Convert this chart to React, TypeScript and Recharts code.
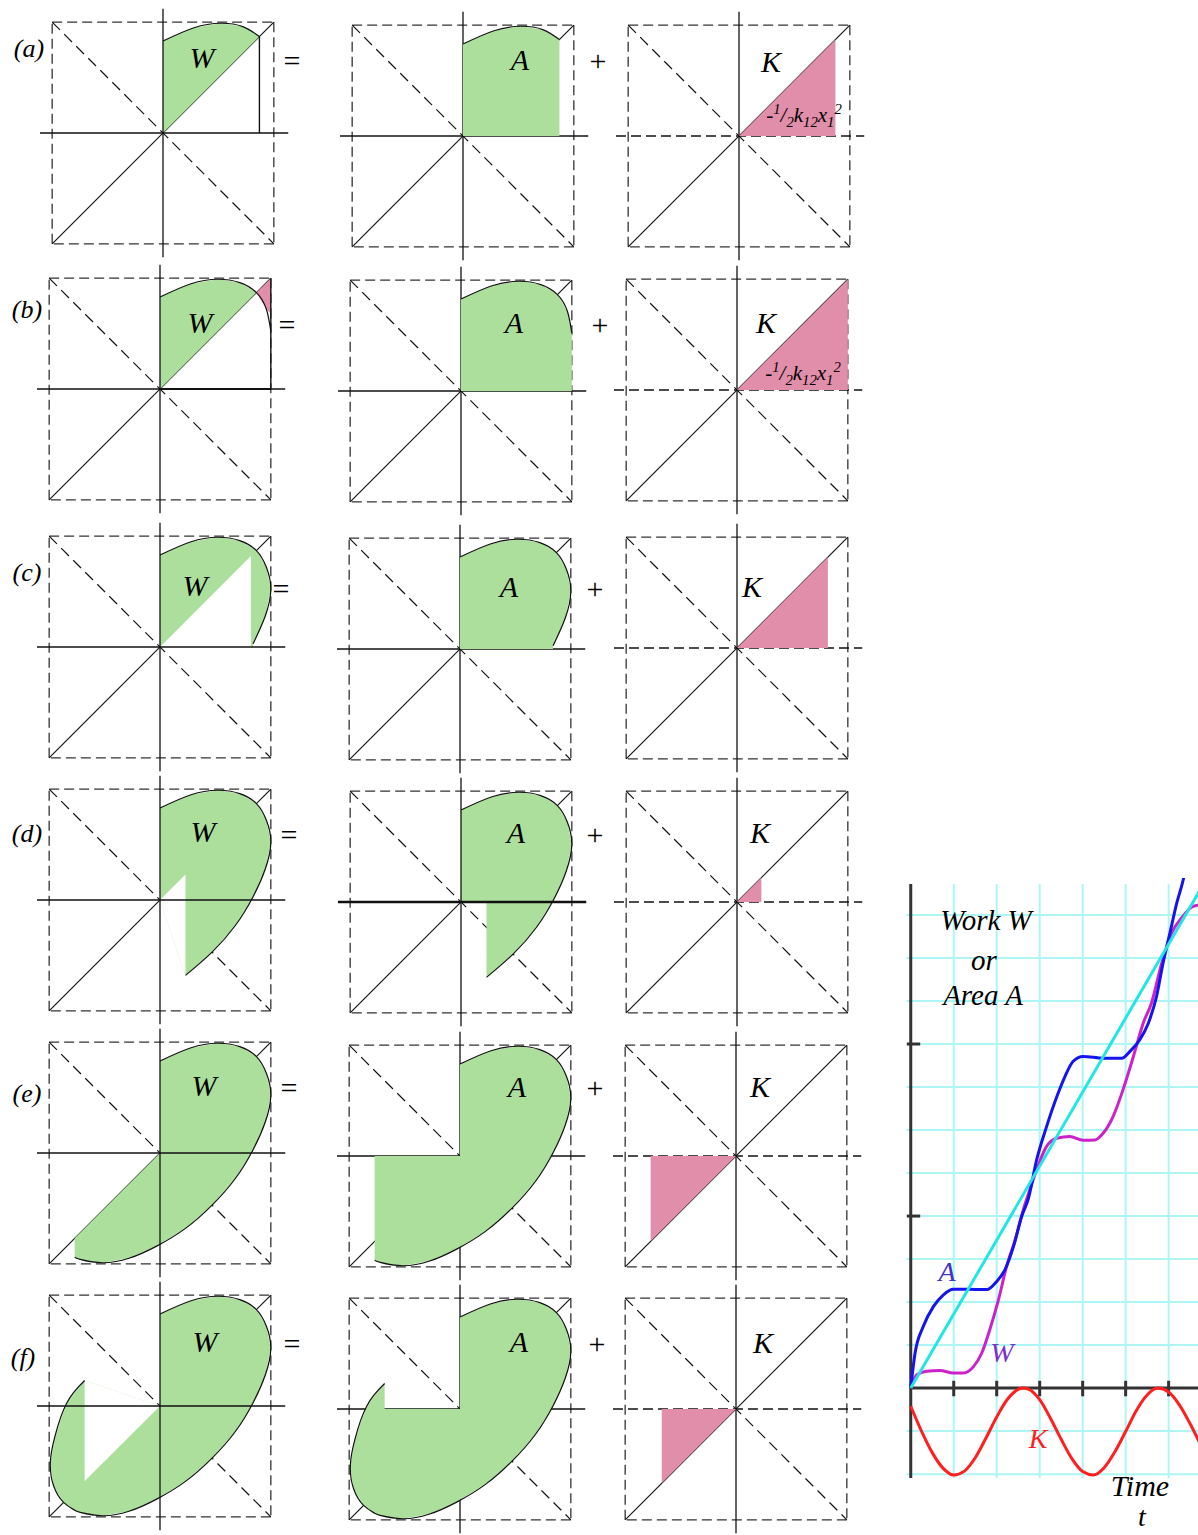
import React from 'react';
import { ComposedChart, XAxis, YAxis, Area, Line, ReferenceLine } from 'recharts';

type Pt = [number, number];

// loop in the (x, F) plane, read clockwise from where it leaves the F axis
const orbit: Pt[] = [
  [0, 0.83], [0.28, 0.95], [0.52, 0.99], [0.72, 0.96], [0.87, 0.87],
  [0.96, 0.72], [1.0, 0.52], [0.95, 0.28], [0.84, 0.03], [0.68, -0.23],
  [0.47, -0.47], [0.23, -0.68], [-0.03, -0.84], [-0.28, -0.95], [-0.52, -0.99],
  [-0.72, -0.96], [-0.77, -0.94], [-0.87, -0.87], [-0.96, -0.72], [-0.99, -0.52],
  [-0.95, -0.28], [-0.84, 0.03], [-0.68, 0.23],
];

const rowLabels = ['(a)', '(b)', '(c)', '(d)', '(e)', '(f)'];
const orbitEnd = [4, 6, 8, 11, 16, 22]; // last loop point reached in each row
const stretch = [0.87, 1.0, 0.82, 0.22, -0.77, -0.67]; // x1 for the K triangle
const wCorner: (Pt | null)[] = [null, null, [0.84, 0], null, [-0.77, -0.77], null];
const wCut: Pt[][] = [
  [],
  [],
  [[0, 0], [0.82, 0.82], [0.82, 0]],
  [[0, 0], [0.23, 0.23], [0.23, -0.68]],
  [],
  [[0, 0], [-0.68, 0.23], [-0.68, -0.68]],
];
const wOvershoot: Pt[] = [[0.87, 0.87], [1.0, 1.0], [1.0, 0.68], [0.96, 0.72]];

// time plot
const gridT = [1, 2, 3, 4, 5, 6];
const gridV = [-2, -1, 1, 2, 3, 4, 5, 6, 7, 8, 9, 10, 11];
const tickV = [4, 8];
const areaA: Pt[] = [
  [0, 0], [0.1, 0.81], [0.29, 1.43], [0.53, 1.9], [0.76, 2.17], [0.99, 2.3], [1.3, 2.3],
  [1.77, 2.29], [2.0, 2.48], [2.19, 2.75], [2.39, 3.29], [2.58, 3.99], [2.74, 4.42],
  [2.93, 5.31], [3.16, 6.08], [3.4, 6.78], [3.59, 7.25], [3.78, 7.6], [4.01, 7.71],
  [4.48, 7.67], [4.91, 7.67], [5.1, 7.83], [5.33, 8.1], [5.53, 8.49], [5.72, 9.11],
  [5.87, 9.88], [6.03, 10.58], [6.19, 11.28], [6.34, 11.82], [6.42, 12.2],
];
const workW: Pt[] = [
  [0, 0.02], [0.14, 0.31], [0.37, 0.39], [0.68, 0.41], [0.99, 0.35], [1.22, 0.35],
  [1.46, 0.5], [1.65, 0.81], [1.84, 1.36], [2.04, 2.05], [2.23, 2.83], [2.43, 3.45],
  [2.62, 4.15], [2.77, 4.61], [2.93, 5.08], [3.16, 5.62], [3.4, 5.81], [3.7, 5.85],
  [4.01, 5.76], [4.29, 5.77], [4.48, 5.93], [4.71, 6.32], [4.94, 6.94], [5.18, 7.71],
  [5.41, 8.49], [5.6, 8.95], [5.84, 9.88], [6.07, 10.58], [6.3, 10.93], [6.57, 11.2],
  [6.73, 11.23],
];
const kinK: Pt[] = [
  [0, -0.42], [0.25, -1.0], [0.5, -1.5], [0.75, -1.86], [1, -2.02], [1.25, -1.93],
  [1.5, -1.62], [1.75, -1.16], [2, -0.67], [2.25, -0.26], [2.5, -0.03], [2.62, 0],
  [2.75, -0.03], [3, -0.27], [3.25, -0.7], [3.5, -1.19], [3.75, -1.64], [4, -1.94],
  [4.25, -2.02], [4.5, -1.85], [4.75, -1.48], [5, -1.01], [5.25, -0.52], [5.5, -0.16],
  [5.75, 0], [6, -0.09], [6.25, -0.39], [6.5, -0.83], [6.75, -1.33],
];
const straight: Pt[] = [[0, 0], [6.73, 11.58]];

// layout
const originX = [
  [163, 160, 160, 160, 160, 160],
  [463, 461, 460, 461, 460, 460],
  [739, 737, 737, 737, 736, 736],
];
const originY = [
  [133, 389, 647, 900, 1153, 1406],
  [136, 391, 649, 902, 1156, 1409],
  [136, 390, 648, 902, 1156, 1409],
];
const wLabel: Pt[] = [[202, 58], [200, 323], [195, 586], [203, 832], [204, 1086], [205, 1342]];
const aLabel: Pt[] = [[520, 60], [514, 323], [509, 587], [516, 833], [517, 1087], [519, 1342]];
const kLabel: Pt[] = [[771, 62], [766, 323], [752, 587], [760, 833], [760, 1087], [763, 1343]];
const rowLabelPos: Pt[] = [[29, 49], [27, 310], [27, 573], [27, 834], [27, 1094], [23, 1358]];
const eqPos: Pt[] = [[292, 61], [287, 325], [281, 589], [289, 835], [289, 1088], [292, 1344]];
const plusPos: Pt[] = [[598, 61], [600, 325], [595, 589], [595, 835], [595, 1088], [597, 1344]];

const PANEL = 266;
const HALF = PANEL / 2;
const DOM: [number, number] = [-1.2, 1.2];
const O: Pt = [0, 0];
const GREEN = '#abdf9b';
const PINK = '#e08ea9';
const INK = '#111';
const GREY = '#333';
const GRID = '#aef6f6';

const asXY = (pts: Pt[]) => pts.map(([x, y]) => ({ x, y }));
const closed = (pts: Pt[]) => [...pts, pts[0]];

const seg = (key: string, a: Pt, b: Pt, stroke: string, w: number, dash?: string) => (
  <ReferenceLine
    key={key}
    segment={[{ x: a[0], y: a[1] }, { x: b[0], y: b[1] }]}
    stroke={stroke}
    strokeWidth={w}
    strokeDasharray={dash}
    ifOverflow="visible"
  />
);

const patch = (key: string, pts: Pt[], fill: string) => (
  <Area
    key={key}
    data={asXY(closed(pts))}
    dataKey="y"
    type="linear"
    stroke="none"
    fill={fill}
    fillOpacity={1}
    dot={false}
    activeDot={false}
    isAnimationActive={false}
  />
);

function Layer({ children }: { children: React.ReactNode }) {
  return (
    <div style={{ position: 'absolute', left: 0, top: 0 }}>
      <ComposedChart width={PANEL} height={PANEL} margin={{ top: 0, right: 0, bottom: 0, left: 0 }}>
        <XAxis type="number" dataKey="x" domain={DOM} hide allowDataOverflow />
        <YAxis type="number" domain={DOM} hide allowDataOverflow />
        {children}
      </ComposedChart>
    </div>
  );
}

function Panel({ row, col }: { row: number; col: number }) {
  const arc = orbit.slice(0, orbitEnd[row] + 1);
  const tip = arc[arc.length - 1];
  const x1 = stretch[row];
  const axesOnTop = col === 0 || (col === 1 && row === 3);

  const frame = [
    seg('bt', [-1, 1], [1, 1], GREY, 1.3, '10 5'),
    seg('br', [1, 1], [1, -1], GREY, 1.3, '10 5'),
    seg('bb', [1, -1], [-1, -1], GREY, 1.3, '10 5'),
    seg('bl', [-1, -1], [-1, 1], GREY, 1.3, '10 5'),
    seg('dd', [-1, 1], [1, -1], INK, 1.2, '11 6'),
    seg('ds', [-1, -1], [1, 1], INK, 1.1),
  ];
  const axes = [
    seg('ax', [-1.11, 0], [1.13, 0], INK, col === 1 && row === 3 ? 2.4 : 1.3, col === 2 ? '10 5' : undefined),
    seg('ay', [0, -1.12], [0, 1.12], INK, 1.3),
  ];

  const fills: React.ReactNode[] = [];
  const marks: React.ReactNode[] = [];
  if (col === 0) {
    const corner = wCorner[row];
    fills.push(patch('w', [O, ...(row === 1 ? orbit.slice(0, 5) : arc), ...(corner ? [corner] : [])], GREEN));
    if (row === 1) fills.push(patch('over', wOvershoot, PINK));
    if (wCut[row].length) fills.push(patch('cut', wCut[row], '#ffffff'));
    if (row <= 1) marks.push(seg('x1', [x1, 0], [x1, x1], INK, 1.4));
    if (row === 1) marks.push(seg('bold', [0, 0], [x1, 0], INK, 2.2));
  } else if (col === 1) {
    fills.push(patch('a', [O, ...arc, [tip[0], 0]], GREEN));
  } else {
    fills.push(patch('k', [O, [x1, x1], [x1, 0]], PINK));
  }
  if (col < 2) {
    marks.push(
      <Line
        key="loop"
        data={asXY(arc)}
        dataKey="y"
        type="natural"
        stroke={INK}
        strokeWidth={1.2}
        dot={false}
        activeDot={false}
        isAnimationActive={false}
      />
    );
  }

  return (
    <div
      style={{
        position: 'absolute',
        left: originX[col][row] - HALF,
        top: originY[col][row] - HALF,
        width: PANEL,
        height: PANEL,
      }}
    >
      <Layer>{axesOnTop ? frame : [...frame, ...axes]}</Layer>
      <Layer>{fills}</Layer>
      {(axesOnTop || marks.length > 0) && <Layer>{[...(axesOnTop ? axes : []), ...marks]}</Layer>}
    </div>
  );
}

function Txt({
  at,
  size,
  color = '#000',
  italic = true,
  children,
}: {
  at: Pt;
  size: number;
  color?: string;
  italic?: boolean;
  children: React.ReactNode;
}) {
  return (
    <div
      style={{
        position: 'absolute',
        left: at[0],
        top: at[1],
        transform: 'translate(-50%, -50%)',
        fontSize: size,
        fontStyle: italic ? 'italic' : 'normal',
        color,
        whiteSpace: 'nowrap',
        lineHeight: 1,
      }}
    >
      {children}
    </div>
  );
}

const small = { fontSize: '0.7em', lineHeight: 0 };
const Formula = () => (
  <span>
    -<sup style={small}>1</sup>/<sub style={small}>2</sub>k<sub style={small}>12</sub>x
    <sub style={small}>1</sub>
    <sup style={small}>2</sup>
  </span>
);

const T_DOM: [number, number] = [-0.25, 6.73];
const V_DOM: [number, number] = [-2.09, 11.86];

function TimeLayer({ children }: { children: React.ReactNode }) {
  return (
    <div style={{ position: 'absolute', left: 0, top: 0 }}>
      <ComposedChart width={300} height={600} margin={{ top: 0, right: 0, bottom: 0, left: 0 }}>
        <XAxis type="number" dataKey="t" domain={T_DOM} hide allowDataOverflow />
        <YAxis type="number" domain={V_DOM} hide allowDataOverflow />
        {children}
      </ComposedChart>
    </div>
  );
}

const curve = (key: string, pts: Pt[], color: string) => (
  <Line
    key={key}
    data={pts.map(([t, v]) => ({ t, v }))}
    dataKey="v"
    type="monotone"
    stroke={color}
    strokeWidth={3}
    dot={false}
    activeDot={false}
    isAnimationActive={false}
  />
);

function TimePlot() {
  const tline = (key: string, a: Pt, b: Pt, stroke: string, w: number) => (
    <ReferenceLine
      key={key}
      segment={[{ x: a[0], y: a[1] }, { x: b[0], y: b[1] }]}
      stroke={stroke}
      strokeWidth={w}
      ifOverflow="visible"
    />
  );
  return (
    <div style={{ position: 'absolute', left: 900, top: 878, width: 300, height: 600 }}>
      <TimeLayer>
        {[
          ...gridT.map((t) => tline(`gt${t}`, [t, -2.09], [t, 11.72], GRID, 2)),
          ...gridV.map((v) => tline(`gv${v}`, [-0.1, v], [6.73, v], GRID, 2)),
          tline('ay', [0, -2.09], [0, 11.72], '#333', 3),
          tline('ax', [0, 0], [6.73, 0], '#333', 3),
          ...gridT.map((t) => tline(`kt${t}`, [t, -0.19], [t, 0.17], '#333', 3)),
          ...tickV.map((v) => tline(`kv${v}`, [-0.09, v], [0.22, v], '#333', 3)),
        ]}
      </TimeLayer>
      <TimeLayer>
        {[
          curve('K', kinK, '#ff1f1f'),
          curve('W', workW, '#cc22cc'),
          curve('A', areaA, '#1414f0'),
          curve('S', straight, '#22e6e6'),
        ]}
      </TimeLayer>
    </div>
  );
}

export default function App() {
  const rows = [0, 1, 2, 3, 4, 5];
  return (
    <div
      style={{
        position: 'fixed',
        left: 0,
        top: 0,
        width: 1198,
        height: 1535,
        overflow: 'hidden',
        background: '#fff',
        fontFamily: '"Liberation Serif", "Times New Roman", serif',
      }}
    >
      {rows.map((r) => [0, 1, 2].map((c) => <Panel key={`p${r}${c}`} row={r} col={c} />))}
      {rows.map((r) => (
        <React.Fragment key={`t${r}`}>
          <Txt at={rowLabelPos[r]} size={26}>{rowLabels[r]}</Txt>
          <Txt at={wLabel[r]} size={30}>W</Txt>
          <Txt at={aLabel[r]} size={30}>A</Txt>
          <Txt at={kLabel[r]} size={30}>K</Txt>
          <Txt at={eqPos[r]} size={30} italic={false}>=</Txt>
          <Txt at={plusPos[r]} size={30} italic={false}>+</Txt>
        </React.Fragment>
      ))}
      <Txt at={[804, 115]} size={21}><Formula /></Txt>
      <Txt at={[803, 373]} size={21}><Formula /></Txt>

      <TimePlot />
      <Txt at={[986, 920]} size={29}>Work W</Txt>
      <Txt at={[984, 960]} size={29}>or</Txt>
      <Txt at={[983, 995]} size={29}>Area A</Txt>
      <Txt at={[947, 1272]} size={28} color="#4433bb">A</Txt>
      <Txt at={[1002, 1353]} size={28} color="#7a30cc">W</Txt>
      <Txt at={[1038, 1439]} size={28} color="#ff1f1f">K</Txt>
      <Txt at={[1140, 1486]} size={30}>Time</Txt>
      <Txt at={[1142, 1517]} size={28}>t</Txt>
    </div>
  );
}
